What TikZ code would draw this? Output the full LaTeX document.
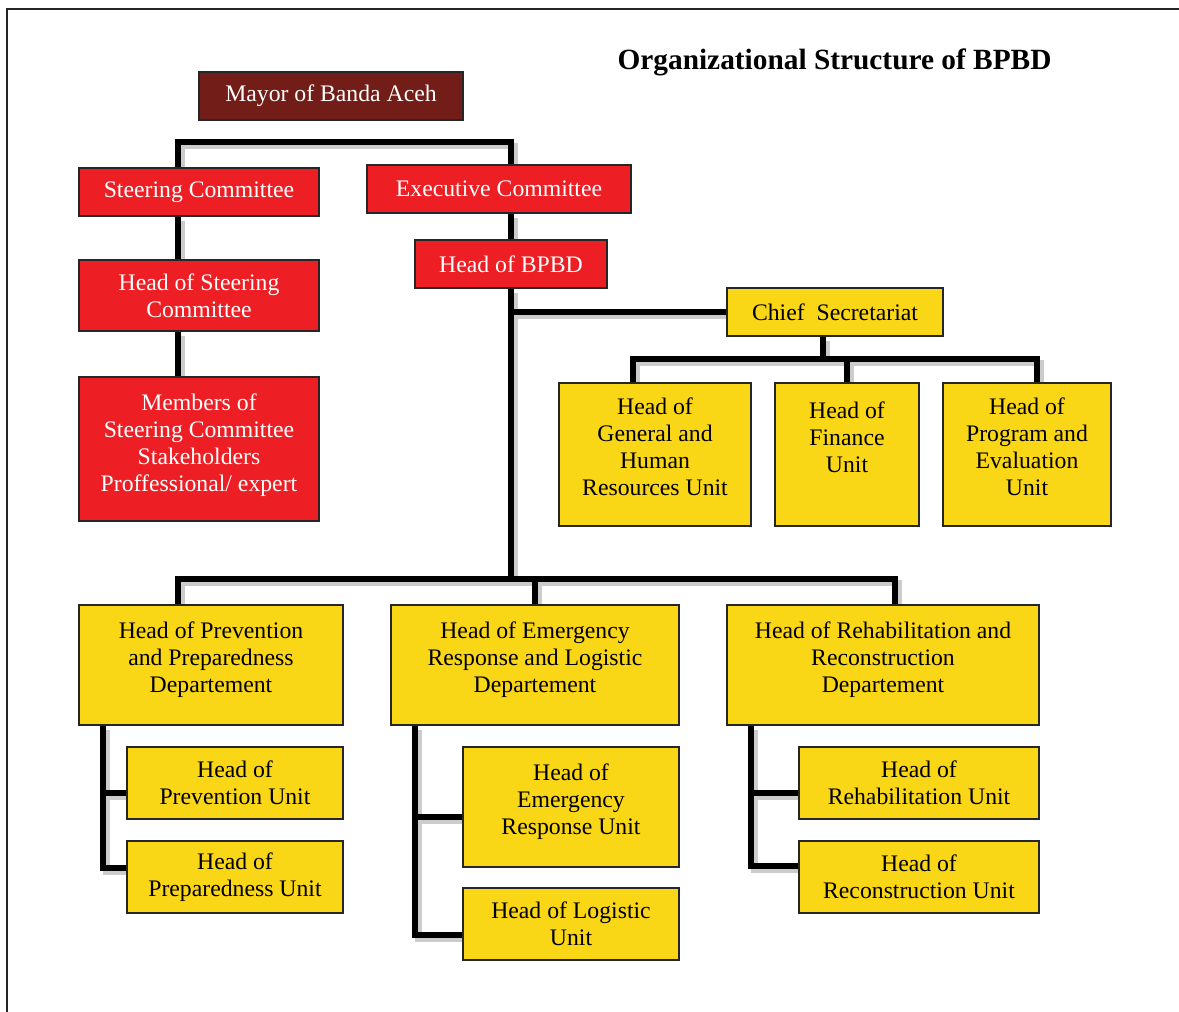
\documentclass[tikz,border=0pt]{standalone}
\usepackage{fontspec}
\setmainfont{Liberation Serif}
\usepackage{tikz}
\usetikzlibrary{calc,positioning,backgrounds}
\definecolor{mayorRed}{RGB}{114,29,23}
\definecolor{boxRed}{RGB}{237,31,36}
\definecolor{boxYellow}{RGB}{249,214,22}

\begin{document}
\begin{tikzpicture}
      \tikzstyle{rnode} = [draw=black!85, line width=0.8pt, rectangle, inner sep=2pt, align=center, text=white, fill=boxRed, font=\fontsize{13.5}{15.4}\selectfont]
      \tikzstyle{ynode} = [rnode, fill=boxYellow, text=black]
      \tikzstyle{conn} = [line width=3.4pt, black, preaction={draw=black!20, line width=3.6pt, transform canvas={shift={(0.07,-0.08)}}}]

      \useasboundingbox (0,0) rectangle (23.58,-20.24);
      \draw[line width=1pt, black!85] (0.14,-20.24) -- (0.14,-0.18) -- (23.58,-0.18);

      \node[font=\fontsize{16.7}{19}\selectfont\bfseries] (title) at (16.69,-1.24) {Organizational Structure of BPBD};

      \node[rnode, fill=mayorRed, minimum width=5.28cm, minimum height=0.96cm] (mayor) at (6.62,-1.92) {Mayor of Banda Aceh};
      \node[rnode, minimum width=4.8cm, minimum height=0.96cm] (steer) at (3.98,-3.84) {Steering Committee};
      \node[rnode, minimum width=5.28cm, minimum height=0.96cm] (exec) at (9.98,-3.78) {Executive Committee};
      \node[rnode, minimum width=3.84cm, minimum height=0.96cm] (headBPBD) at (10.22,-5.28) {Head of BPBD};
      \node[rnode, minimum width=4.8cm, minimum height=1.42cm] (headSteer) at (3.98,-5.91) {Head of Steering\\ Committee};
      \node[rnode, minimum width=4.8cm, minimum height=2.88cm] (members) at (3.98,-8.98) {Members of\\ Steering Committee\\ Stakeholders\\ Proffessional/ expert\\[-8pt]\mbox{}};

      \node[ynode, minimum width=4.32cm, minimum height=0.96cm] (chiefSec) at (16.70,-6.24) {Chief\ \ Secretariat};
      \node[ynode, minimum width=3.84cm, minimum height=2.86cm] (general) at (13.10,-9.09) {Head of\\ General and\\ Human\\ Resources Unit\\[-6pt]\mbox{}};
      \node[ynode, minimum width=2.88cm, minimum height=2.86cm] (finance) at (16.94,-9.09) {Head of\\ Finance\\ Unit\\ \strut};
      \node[ynode, minimum width=3.36cm, minimum height=2.86cm] (program) at (20.54,-9.09) {Head of\\ Program and\\ Evaluation\\ Unit\\[-6pt]\mbox{}};

      \node[ynode, minimum width=5.28cm, minimum height=2.4cm] (prevDept) at (4.22,-13.30) {Head of Prevention\\ and Preparedness\\ Departement\\[-6pt]\mbox{}};
      \node[ynode, minimum width=5.76cm, minimum height=2.4cm] (emerDept) at (10.70,-13.30) {Head of Emergency\\ Response and Logistic\\ Departement\\[-6pt]\mbox{}};
      \node[ynode, minimum width=6.24cm, minimum height=2.4cm] (rehabDept) at (17.66,-13.30) {Head of Rehabilitation and\\ Reconstruction\\ Departement\\[-6pt]\mbox{}};

      \node[ynode, minimum width=4.32cm, minimum height=1.44cm] (prevUnit) at (4.70,-15.66) {Head of\\ Prevention Unit};
      \node[ynode, minimum width=4.32cm, minimum height=1.44cm] (prepUnit) at (4.70,-17.54) {Head of\\ Preparedness Unit};
      \node[ynode, minimum width=4.32cm, minimum height=2.4cm] (emerUnit) at (11.42,-16.14) {Head of\\ Emergency\\ Response Unit\\[-6pt]\mbox{}};
      \node[ynode, minimum width=4.32cm, minimum height=1.44cm] (logUnit) at (11.42,-18.48) {Head of Logistic\\ Unit};
      \node[ynode, minimum width=4.8cm, minimum height=1.44cm] (rehabUnit) at (18.38,-15.66) {Head of\\ Rehabilitation Unit};
      \node[ynode, minimum width=4.8cm, minimum height=1.44cm] (reconUnit) at (18.38,-17.54) {Head of\\ Reconstruction Unit};

      \begin{scope}[on background layer]
        % committees
        \draw[conn] ([xshift=-0.42cm]steer.north) -- ++(0,0.5) -| ([xshift=0.24cm]exec.north);
        \draw[conn] ([xshift=-0.42cm]steer.south) -- ([xshift=-0.42cm]headSteer.north);
        \draw[conn] ([xshift=-0.42cm]headSteer.south) -- ([xshift=-0.42cm]members.north);
        \draw[conn] ([xshift=0.24cm]exec.south) -- (headBPBD.north);

        % secretariat
        \draw[conn] (headBPBD.south) -- ++(0,-5.84);
        \draw[conn] (headBPBD.south |- chiefSec.west) -- (chiefSec.west);
        \draw[conn] ([xshift=-0.24cm]chiefSec.south) -- ++(0,-0.48);
        \draw[conn] ([xshift=-0.44cm]general.north) -- ++(0,0.46) -| ([xshift=0.2cm]program.north);
        \draw[conn] (finance.north) -- ++(0,0.46);

        % departements
        \draw[conn] ([xshift=-0.66cm]prevDept.north) -- ++(0,0.5) -| ([xshift=0.24cm]rehabDept.north);
        \draw[conn] (emerDept.north) -- ++(0,0.5);

        \draw[conn] ([xshift=-2.16cm]prevDept.south) |- ([yshift=0.18cm]prepUnit.west);
        \draw[conn] ([yshift=-0.2cm]prevUnit.west) -- ++(-0.48,0);
        \draw[conn] ([xshift=-2.40cm]emerDept.south) |- ([yshift=-0.22cm]logUnit.west);
        \draw[conn] ([yshift=-0.2cm]emerUnit.west) -- ++(-0.96,0);
        \draw[conn] ([xshift=-2.64cm]rehabDept.south) |- ([yshift=0.22cm]reconUnit.west);
        \draw[conn] ([yshift=-0.2cm]rehabUnit.west) -- ++(-0.96,0);
      \end{scope}

    \end{tikzpicture}
\end{document}
